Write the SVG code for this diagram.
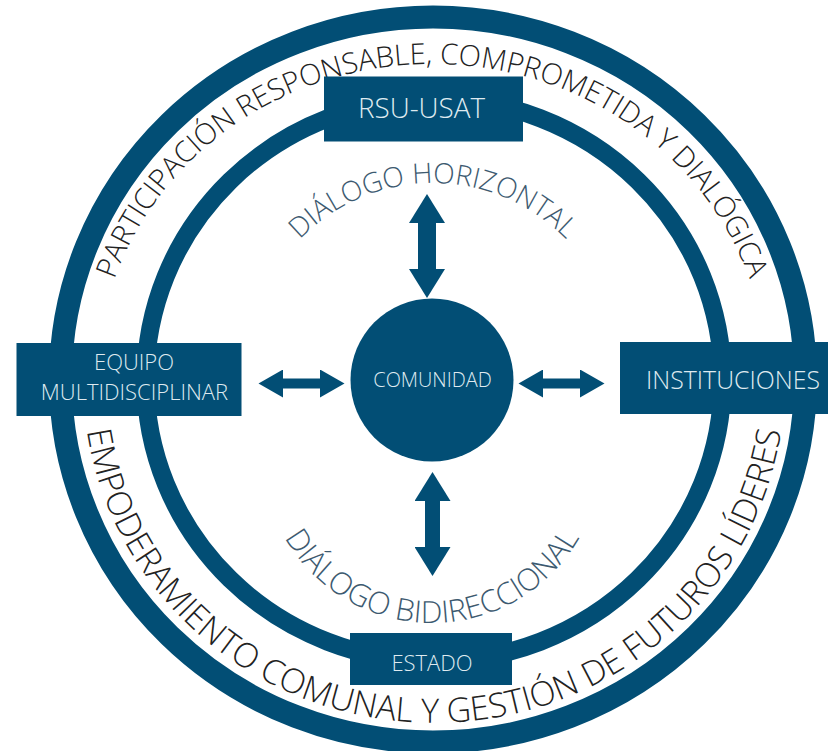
<svg xmlns="http://www.w3.org/2000/svg" width="828" height="751" viewBox="0 0 828 751">
<style>
.ring{fill:none;stroke:#024e75}
.box{fill:#024e75}
.lbl{font-family:"Open Sans","Liberation Sans",sans-serif;font-weight:300;fill:#dfeaf0;text-anchor:middle}
.outer{font-family:"Open Sans","Liberation Sans",sans-serif;font-weight:300;fill:#222;text-anchor:middle}
.inner{font-family:"Open Sans","Liberation Sans",sans-serif;font-weight:300;fill:#3d5a70;text-anchor:middle}
.arrow{stroke:#024e75;fill:none}
</style>
<defs>
<marker id="headV" markerUnits="userSpaceOnUse" viewBox="0 0 30 36" refX="1" refY="18" markerWidth="30" markerHeight="36" orient="auto-start-reverse"><path d="M0,0L29,18L0,36Z" fill="#024e75"/></marker>
<marker id="headH" markerUnits="userSpaceOnUse" viewBox="0 0 25 28" refX="1" refY="14" markerWidth="25" markerHeight="28" orient="auto-start-reverse"><path d="M0,0L24.500,14L0,28Z" fill="#024e75"/></marker>
<path id="pOutT" d="M97,380A335,316 0 0 1 767,380"/>
<path id="pOutB" d="M83,380A351,343 0 0 0 785,380"/>
<path id="pInT" d="M243,380A190,197 0 0 1 623,380"/>
<path id="pInB" d="M262,453A170,170 0 0 0 602,453"/>
</defs>
<g id="rings">
<ellipse class="ring" cx="433" cy="379.500" rx="372.500" ry="362.500" stroke-width="23"/>
<ellipse class="ring" cx="434" cy="380" rx="288.500" ry="281.500" stroke-width="18"/>
</g>
<g id="ring-labels">
<text class="outer" font-size="29.100"><textPath href="#pOutT" startOffset="50%">PARTICIPACIÓN RESPONSABLE, COMPROMETIDA Y DIALÓGICA</textPath></text>
<text class="outer" font-size="33.800"><textPath href="#pOutB" startOffset="50%">EMPODERAMIENTO COMUNAL Y GESTIÓN DE FUTUROS LÍDERES</textPath></text>
<text class="inner" font-size="28"><textPath href="#pInT" startOffset="50%">DIÁLOGO HORIZONTAL</textPath></text>
<text class="inner" font-size="30.600"><textPath href="#pInB" startOffset="50%">DIÁLOGO BIDIRECCIONAL</textPath></text>
</g>
<g id="connectors">
<line class="arrow" x1="427" y1="222" x2="427" y2="270" stroke-width="18" marker-start="url(#headV)" marker-end="url(#headV)"/>
<line class="arrow" x1="432.500" y1="500" x2="432.500" y2="548" stroke-width="15" marker-start="url(#headV)" marker-end="url(#headV)"/>
<line class="arrow" x1="282" y1="383.500" x2="321" y2="383.500" stroke-width="10" marker-start="url(#headH)" marker-end="url(#headH)"/>
<line class="arrow" x1="542" y1="383.500" x2="581" y2="383.500" stroke-width="10" marker-start="url(#headH)" marker-end="url(#headH)"/>
</g>
<g id="node-rsu"><rect class="box" x="324" y="76.500" width="199" height="65"/><text class="lbl" x="421.500" y="118" font-size="27.800">RSU-USAT</text></g>
<g id="node-equipo"><rect class="box" x="16.500" y="343" width="225" height="73"/><text class="lbl" x="134" y="370" font-size="22">EQUIPO</text><text class="lbl" x="134.500" y="400" font-size="22">MULTIDISCIPLINAR</text></g>
<g id="node-instituciones"><rect class="box" x="620" y="342" width="208" height="72"/><text class="lbl" x="733" y="389" font-size="24.900">INSTITUCIONES</text></g>
<g id="node-estado"><rect class="box" x="350" y="633" width="162" height="52"/><text class="lbl" x="432" y="671" font-size="22">ESTADO</text></g>
<g id="node-comunidad"><circle class="box" cx="432" cy="380" r="81.500"/><text class="lbl" x="432.500" y="387" font-size="19.900">COMUNIDAD</text></g>
</svg>
